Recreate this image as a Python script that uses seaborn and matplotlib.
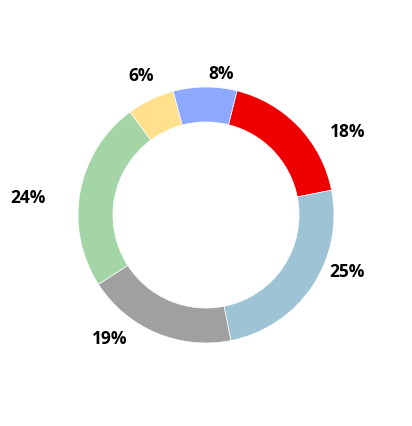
import matplotlib
matplotlib.use("Agg")
import matplotlib.pyplot as plt
import seaborn as sns

# dados do gráfico (sentido horário a partir do vermelho)
labels = ["18%", "25%", "19%", "24%", "6%", "8%"]
values = [18, 25, 19, 24, 6, 8]
colors = ["#EE0000", "#9DC3D5", "#A0A0A0", "#A3D5A6", "#FFE08C", "#8CA8FF"]

# posições dos rótulos (coordenadas do eixo, raio externo = 1)
label_pos = [(1.109, 0.648), (1.102, -0.446), (-0.750, -0.969),
             (-1.391, 0.132), (-0.508, 1.086), (0.117, 1.101)]

sns.set_theme(style="white")
plt.rcParams["font.family"] = ["Open Sans", "DejaVu Sans"]

fig = plt.figure(figsize=(4.12, 4.26), dpi=100)
ax = fig.add_axes([0, 0, 1, 1])
ax.pie(values, colors=colors, startangle=76, counterclock=False,
       radius=1.0, wedgeprops=dict(width=0.273, edgecolor="white", linewidth=0.5))

for txt, (x, y) in zip(labels, label_pos):
    ax.text(x, y, txt, ha="center", va="center", fontsize=12.5,
            fontweight="bold", color="black")

ax.set_aspect("equal")
ax.set_xlim(-206 / 128, 206 / 128)
ax.set_ylim(-211 / 128, 215 / 128)
ax.axis("off")

fig.savefig("out.png", dpi=100)
